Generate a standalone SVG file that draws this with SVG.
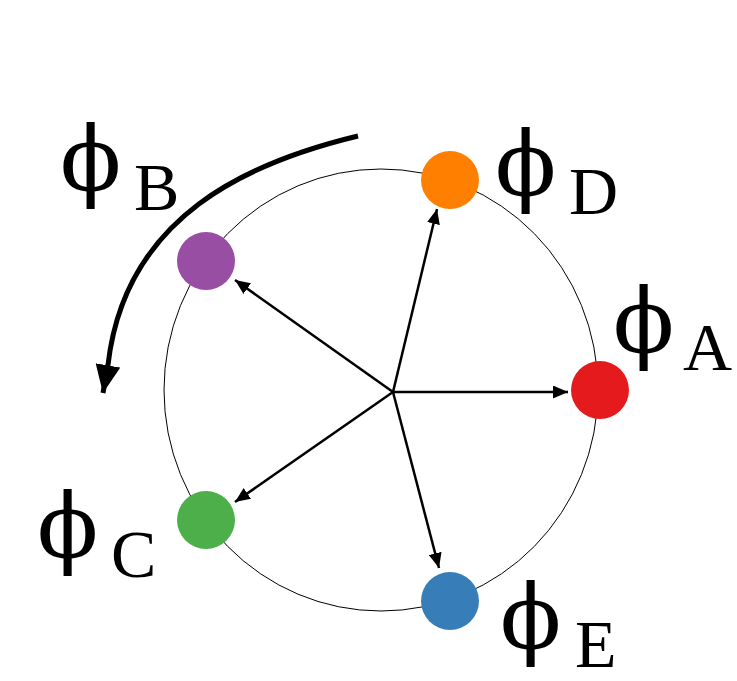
<svg xmlns="http://www.w3.org/2000/svg" width="737" height="681" viewBox="0 0 737 681">
<style>
.phi{font-family:"DejaVu Serif","Liberation Serif",serif;font-size:90px;fill:#000}
.sub{font-family:"Liberation Serif","DejaVu Serif",serif;font-size:68px;fill:#000}
.vec{stroke:#000;stroke-width:2.5;fill:none;marker-end:url(#ah)}
</style>
<defs>
<marker id="ah" viewBox="0 0 15 13" refX="15" refY="6.5" markerWidth="15" markerHeight="13" markerUnits="userSpaceOnUse" orient="auto">
<path d="M0,0 L15,6.5 L0,13 Z" fill="#000"/>
</marker>
<marker id="bigah" viewBox="0 0 28 25" refX="28" refY="12.5" markerWidth="28" markerHeight="25" markerUnits="userSpaceOnUse" orient="auto">
<path d="M0,0 L28,12.5 L0,25 Z" fill="#000"/>
</marker>
</defs>
<rect width="737" height="681" fill="#fff"/>
<ellipse id="ring" cx="381" cy="390" rx="217" ry="221" fill="none" stroke="#000" stroke-width="1"/>
<g id="connectors">
<line class="vec" x1="393" y1="392" x2="437" y2="209"/>
<line class="vec" x1="393" y1="392" x2="235" y2="280"/>
<line class="vec" x1="393" y1="392" x2="568" y2="392"/>
<line class="vec" x1="393" y1="392" x2="235" y2="502"/>
<line class="vec" x1="393" y1="392" x2="439" y2="568"/>
<path id="rotation" d="M358,136 C250,162 125,215 108,365 L103,393" fill="none" stroke="#000" stroke-width="5" marker-end="url(#bigah)"/>
</g>
<g id="nodeA"><circle cx="600" cy="390" r="29" fill="#E41A1C"/><text class="phi" x="613" y="352">ϕ</text><text class="sub" x="683" y="370">A</text></g>
<g id="nodeD"><circle cx="450" cy="180" r="29" fill="#FF7F00"/><text class="phi" x="495" y="195">ϕ</text><text class="sub" x="569" y="214">D</text></g>
<g id="nodeB"><circle cx="206" cy="261" r="29" fill="#984EA3"/><text class="phi" x="60" y="190">ϕ</text><text class="sub" x="134" y="210">B</text></g>
<g id="nodeC"><circle cx="206" cy="520" r="29" fill="#4DAF4A"/><text class="phi" x="37" y="557">ϕ</text><text class="sub" x="111" y="577">C</text></g>
<g id="nodeE"><circle cx="450" cy="601" r="29" fill="#377EB8"/><text class="phi" x="500" y="648">ϕ</text><text class="sub" x="575" y="667">E</text></g>
</svg>
